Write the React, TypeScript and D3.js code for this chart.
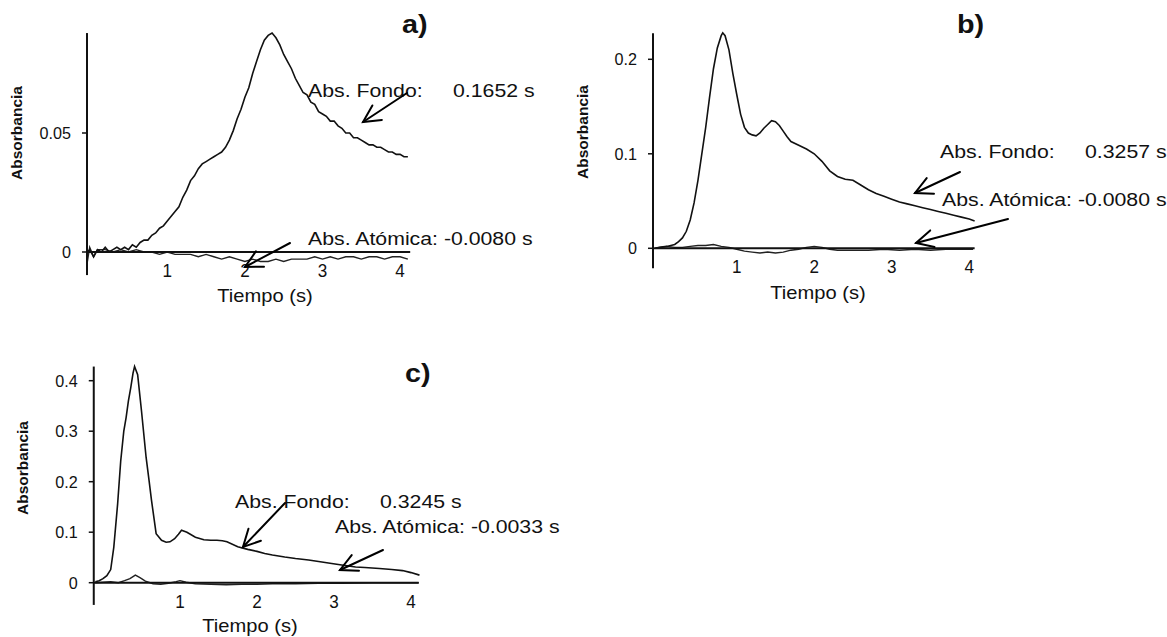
import React from 'react';
import * as d3 from 'd3';

// ---------- data ----------
const xTickValues = [1, 2, 3, 4];
const yTicksA = [0, 0.05];
const yTicksB = [0, 0.1, 0.2];
const yTicksC = [0, 0.1, 0.2, 0.3, 0.4];

const titles = ['a)', 'b)', 'c)'];
const fondoLabels = ['0.1652 s', '0.3257 s', '0.3245 s'];
const atomLabels = ['-0.0080 s', '-0.0080 s', '-0.0033 s'];

// panel a: background (Fondo) absorbance trace
const fondoA: [number, number][] = [
  [-0.03, 0.000], [0.0, 0.001], [0.05, -0.002], [0.1, 0.001], [0.15, 0.0], [0.2, 0.002], [0.25, 0.0],
  [0.3, 0.001], [0.35, 0.002], [0.4, 0.001], [0.45, 0.002], [0.5, 0.001], [0.55, 0.003],
  [0.6, 0.002], [0.65, 0.004], [0.7, 0.005], [0.75, 0.005], [0.8, 0.007], [0.85, 0.008],
  [0.9, 0.010], [0.95, 0.011], [1.0, 0.013], [1.05, 0.015], [1.1, 0.017], [1.15, 0.019],
  [1.2, 0.023], [1.25, 0.026], [1.3, 0.030], [1.35, 0.032], [1.4, 0.035], [1.45, 0.037],
  [1.5, 0.038], [1.55, 0.039], [1.6, 0.040], [1.65, 0.041], [1.7, 0.042], [1.75, 0.044],
  [1.8, 0.047], [1.85, 0.051], [1.9, 0.056], [1.95, 0.060], [2.0, 0.065], [2.05, 0.069],
  [2.1, 0.075], [2.15, 0.080], [2.2, 0.085], [2.25, 0.089], [2.3, 0.091], [2.35, 0.092],
  [2.4, 0.090], [2.45, 0.087], [2.5, 0.083], [2.55, 0.080], [2.6, 0.077], [2.65, 0.073],
  [2.7, 0.070], [2.75, 0.067], [2.8, 0.066], [2.85, 0.063], [2.9, 0.062], [2.95, 0.059],
  [3.0, 0.058], [3.05, 0.057], [3.1, 0.055], [3.15, 0.055], [3.2, 0.053], [3.25, 0.052],
  [3.3, 0.050], [3.35, 0.050], [3.4, 0.048], [3.45, 0.048], [3.5, 0.047], [3.55, 0.046],
  [3.6, 0.045], [3.65, 0.045], [3.7, 0.044], [3.75, 0.044], [3.8, 0.043], [3.85, 0.042],
  [3.9, 0.042], [3.95, 0.041], [4.0, 0.041], [4.05, 0.040], [4.1, 0.040],
];
// panel a: atomic absorbance trace
const atomA: [number, number][] = [
  [-0.03, -0.004], [0.0, 0.002], [0.05, -0.002], [0.1, 0.001], [0.2, 0.001], [0.3, 0.0],
  [0.4, 0.001], [0.5, 0.0], [0.6, 0.001], [0.7, 0.0], [0.8, 0.0], [0.9, -0.001], [1.0, 0.0],
  [1.1, -0.001], [1.2, -0.001], [1.3, -0.001], [1.4, -0.002], [1.5, -0.001], [1.6, -0.002],
  [1.7, -0.003], [1.8, -0.002], [1.9, -0.003], [2.0, -0.004], [2.1, -0.003], [2.2, -0.004],
  [2.3, -0.004], [2.4, -0.003], [2.5, -0.004], [2.6, -0.003], [2.7, -0.003], [2.8, -0.003],
  [2.9, -0.002], [3.0, -0.003], [3.1, -0.002], [3.2, -0.003], [3.3, -0.002], [3.4, -0.002],
  [3.5, -0.003], [3.6, -0.002], [3.7, -0.002], [3.8, -0.003], [3.9, -0.002], [4.0, -0.002],
  [4.1, -0.003],
];

// panel b
const fondoB: [number, number][] = [
  [-0.05, 0.0], [0.0, 0.001], [0.1, 0.002], [0.2, 0.004], [0.25, 0.007], [0.3, 0.011],
  [0.35, 0.018], [0.4, 0.030], [0.45, 0.048], [0.5, 0.072], [0.55, 0.100], [0.6, 0.128],
  [0.65, 0.160], [0.7, 0.190], [0.75, 0.212], [0.8, 0.225], [0.82, 0.228], [0.85, 0.225],
  [0.9, 0.210], [0.95, 0.185], [1.0, 0.163], [1.05, 0.142], [1.1, 0.128], [1.15, 0.122],
  [1.2, 0.120], [1.25, 0.119], [1.3, 0.122], [1.35, 0.127], [1.4, 0.131], [1.45, 0.135],
  [1.5, 0.134], [1.55, 0.130], [1.6, 0.124], [1.65, 0.118], [1.7, 0.113], [1.8, 0.109],
  [1.9, 0.105], [2.0, 0.100], [2.1, 0.092], [2.2, 0.082], [2.3, 0.076], [2.4, 0.073],
  [2.5, 0.072], [2.6, 0.067], [2.7, 0.062], [2.8, 0.058], [2.9, 0.055], [3.0, 0.052],
  [3.1, 0.049], [3.2, 0.047], [3.3, 0.045], [3.4, 0.043], [3.5, 0.041], [3.6, 0.039],
  [3.7, 0.037], [3.8, 0.035], [3.9, 0.033], [4.0, 0.031], [4.07, 0.029],
];
const atomB: [number, number][] = [
  [-0.05, 0.0], [0.1, 0.002], [0.2, 0.001], [0.3, 0.001], [0.4, 0.002], [0.5, 0.003],
  [0.6, 0.003], [0.7, 0.004], [0.8, 0.002], [0.9, 0.001], [1.0, -0.001], [1.1, -0.003],
  [1.2, -0.004], [1.3, -0.005], [1.4, -0.004], [1.5, -0.005], [1.6, -0.004], [1.7, -0.002],
  [1.8, -0.001], [1.9, 0.001], [2.0, 0.002], [2.1, 0.001], [2.2, -0.001], [2.3, -0.002],
  [2.5, -0.002], [2.7, -0.002], [2.9, -0.001], [3.1, -0.002], [3.3, -0.001], [3.5, -0.002],
  [3.7, -0.001], [3.9, -0.001], [4.05, -0.001],
];

// panel c
const fondoC: [number, number][] = [
  [-0.1, 0.002], [-0.05, 0.004], [0.0, 0.008], [0.05, 0.014], [0.1, 0.026], [0.14, 0.070],
  [0.19, 0.156], [0.23, 0.241], [0.27, 0.300], [0.3, 0.327], [0.33, 0.360], [0.36, 0.386],
  [0.39, 0.415], [0.41, 0.428], [0.45, 0.412], [0.5, 0.340], [0.56, 0.248], [0.6, 0.200],
  [0.63, 0.163], [0.69, 0.097], [0.76, 0.084], [0.82, 0.080], [0.87, 0.081], [0.93, 0.087],
  [0.98, 0.096], [1.02, 0.104], [1.09, 0.100], [1.2, 0.090], [1.31, 0.085], [1.4, 0.084],
  [1.48, 0.084], [1.55, 0.083], [1.61, 0.081], [1.75, 0.071], [1.88, 0.066], [2.0, 0.062],
  [2.1, 0.058], [2.2, 0.055], [2.36, 0.051], [2.5, 0.048], [2.67, 0.045], [2.8, 0.042],
  [2.97, 0.038], [3.1, 0.035], [3.28, 0.031], [3.4, 0.030], [3.59, 0.028], [3.75, 0.026],
  [3.89, 0.024], [4.0, 0.020], [4.11, 0.015],
];
const atomC: [number, number][] = [
  [-0.1, 0.0], [0.0, 0.001], [0.1, 0.002], [0.2, 0.0], [0.28, 0.004], [0.35, 0.008],
  [0.42, 0.015], [0.48, 0.010], [0.55, 0.003], [0.65, -0.002], [0.75, -0.003], [0.85, -0.001],
  [0.95, 0.002], [1.0, 0.004], [1.08, 0.001], [1.2, -0.002], [1.4, -0.003], [1.6, -0.004],
  [1.8, -0.003], [2.0, -0.003], [2.2, -0.002], [2.5, -0.002], [2.8, -0.001], [3.1, -0.001],
  [3.5, 0.0], [3.8, 0.0], [4.1, 0.0],
];

// ---------- layout ----------
const FONT = '"Liberation Sans", Arial, sans-serif';
const STRETCH = 1.15;

type Arrow = { tail: [number, number]; tip: [number, number] };
type PanelCfg = {
  xRange: [number, number];
  yRef: number;
  yRange: [number, number];
  xExt: [number, number];
  yExt: [number, number];
  yLabelPos: [number, number];
  tiempoPos: [number, number];
  titlePos: [number, number];
  fondoTextPos: [number, number];
  atomTextPos: [number, number];
  arrows: Arrow[];
};

const cfgA: PanelCfg = {
  xRange: [89.7, 400.1], yRef: 0.05, yRange: [252, 133],
  xExt: [-0.035, 4.13], yExt: [-0.0097, 0.092],
  yLabelPos: [17, 133], tiempoPos: [265, 302], titlePos: [402, 33],
  fondoTextPos: [308, 97], atomTextPos: [308, 245],
  arrows: [
    { tail: [407, 93], tip: [363, 122] },
    { tail: [290, 243], tip: [245, 267] },
  ],
};
const cfgB: PanelCfg = {
  xRange: [659.2, 969.2], yRef: 0.2, yRange: [248.3, 59.3],
  xExt: [-0.08, 4.07], yExt: [-0.021, 0.2275],
  yLabelPos: [583, 132], tiempoPos: [818, 299], titlePos: [957, 33],
  fondoTextPos: [940, 158], atomTextPos: [942, 206],
  arrows: [
    { tail: [960, 172], tip: [915, 193] },
    { tail: [1008, 219], tip: [916, 243] },
  ],
};
const cfgC: PanelCfg = {
  xRange: [103, 411], yRef: 0.4, yRange: [582.7, 380.7],
  xExt: [-0.12, 4.1], yExt: [-0.044, 0.428],
  yLabelPos: [23, 468], tiempoPos: [250, 632], titlePos: [405, 382],
  fondoTextPos: [235, 508], atomTextPos: [335, 533],
  arrows: [
    { tail: [285, 503], tip: [243, 547] },
    { tail: [383, 550], tip: [340, 570] },
  ],
};

function SText(props: {
  x: number; y: number; size: number; weight?: string; anchor?: string; sx?: number;
  rotate?: number; children: React.ReactNode;
}) {
  const { x, y, size, weight = 'normal', anchor = 'start', sx = STRETCH, rotate = 0, children } = props;
  return (
    <text
      transform={`translate(${x},${y}) rotate(${rotate}) scale(${sx},1)`}
      fontFamily={FONT}
      fontSize={size}
      fontWeight={weight}
      textAnchor={anchor}
      fill="#111"
    >
      {children}
    </text>
  );
}

function ArrowMark({ a }: { a: Arrow }) {
  const [tx, ty] = a.tail;
  const [hx, hy] = a.tip;
  const ang = Math.atan2(ty - hy, tx - hx);
  const L = 19;
  const spread = (27 * Math.PI) / 180;
  const w1: [number, number] = [hx + L * Math.cos(ang - spread), hy + L * Math.sin(ang - spread)];
  const w2: [number, number] = [hx + L * Math.cos(ang + spread), hy + L * Math.sin(ang + spread)];
  return (
    <g stroke="#000" strokeWidth={2} fill="none" strokeLinecap="round">
      <line x1={tx} y1={ty} x2={hx} y2={hy} />
      <polyline points={`${w1[0]},${w1[1]} ${hx},${hy} ${w2[0]},${w2[1]}`} />
    </g>
  );
}

function Panel(props: {
  cfg: PanelCfg; fondo: [number, number][]; atom: [number, number][]; yTicks: number[];
  title: string; fondoLabel: string; atomLabel: string;
}) {
  const { cfg, fondo, atom, yTicks, title, fondoLabel, atomLabel } = props;
  const x = d3.scaleLinear().domain([0, 4]).range(cfg.xRange);
  const y = d3.scaleLinear().domain([0, cfg.yRef]).range(cfg.yRange);
  const line = d3.line<[number, number]>().x((d) => x(d[0])).y((d) => y(d[1]));
  const ax = x(cfg.xExt[0]);
  const ay0 = y(0);
  return (
    <g>
      <path d={line(atom) || ''} fill="none" stroke="#222" strokeWidth={1.4} />
      <path d={line(fondo) || ''} fill="none" stroke="#111" strokeWidth={1.6} />
      <line x1={ax} x2={ax} y1={y(cfg.yExt[0])} y2={y(cfg.yExt[1])} stroke="#111" strokeWidth={2} />
      <line x1={ax} x2={x(cfg.xExt[1])} y1={ay0} y2={ay0} stroke="#111" strokeWidth={2} />
      {yTicks.map((v) => (
        <g key={v}>
          <line x1={ax - 5} x2={ax} y1={y(v)} y2={y(v)} stroke="#111" strokeWidth={1.5} />
          <SText x={ax - 16} y={y(v) + 6} size={17} anchor="end" sx={0.95}>
            {String(v)}
          </SText>
        </g>
      ))}
      {xTickValues.map((t) => (
        <SText key={t} x={x(t)} y={ay0 + 25} size={18} anchor="middle" sx={0.95}>
          {String(t)}
        </SText>
      ))}
      <SText x={cfg.tiempoPos[0]} y={cfg.tiempoPos[1]} size={17.5} anchor="middle">
        Tiempo (s)
      </SText>
      <SText x={cfg.yLabelPos[0] + 5} y={cfg.yLabelPos[1]} size={15.5} weight="bold" anchor="middle" rotate={-90} sx={1}>
        Absorbancia
      </SText>
      <SText x={cfg.titlePos[0]} y={cfg.titlePos[1]} size={25} weight="bold">
        {title}
      </SText>
      <SText x={cfg.fondoTextPos[0]} y={cfg.fondoTextPos[1]} size={18.5}>
        Abs. Fondo:
      </SText>
      <SText x={cfg.fondoTextPos[0] + 145} y={cfg.fondoTextPos[1]} size={18.5}>
        {fondoLabel}
      </SText>
      <SText x={cfg.atomTextPos[0]} y={cfg.atomTextPos[1]} size={18.5}>
        {`Abs. Atómica: ${atomLabel}`}
      </SText>
      {cfg.arrows.map((a, i) => (
        <ArrowMark key={i} a={a} />
      ))}
    </g>
  );
}

export default function App() {
  return (
    <svg
      width={1167}
      height={637}
      style={{ position: 'absolute', left: 0, top: 0, background: '#fff' }}
    >
      <rect width={1167} height={637} fill="#fff" />
      <Panel cfg={cfgA} fondo={fondoA} atom={atomA} yTicks={yTicksA} title={titles[0]}
        fondoLabel={fondoLabels[0]} atomLabel={atomLabels[0]} />
      <Panel cfg={cfgB} fondo={fondoB} atom={atomB} yTicks={yTicksB} title={titles[1]}
        fondoLabel={fondoLabels[1]} atomLabel={atomLabels[1]} />
      <Panel cfg={cfgC} fondo={fondoC} atom={atomC} yTicks={yTicksC} title={titles[2]}
        fondoLabel={fondoLabels[2]} atomLabel={atomLabels[2]} />
    </svg>
  );
}
